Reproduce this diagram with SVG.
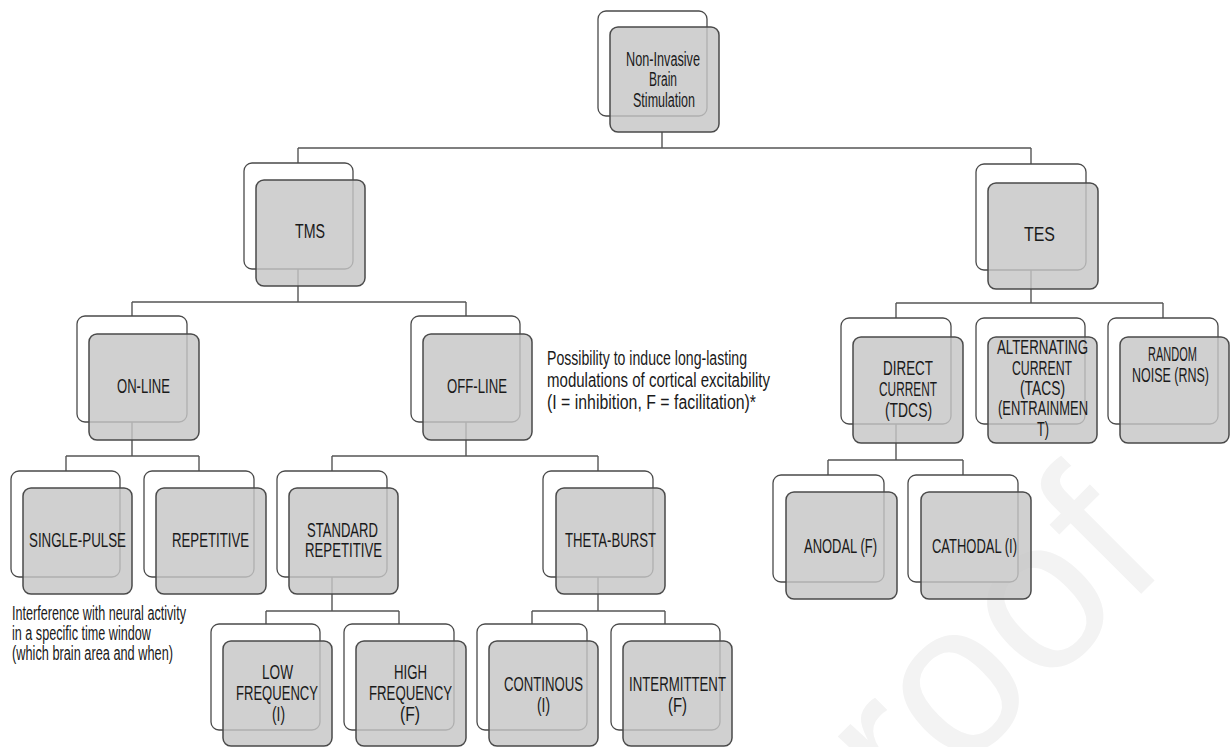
<svg xmlns="http://www.w3.org/2000/svg" width="1231" height="747" viewBox="0 0 1231 747">
<style>
.back{fill:#ffffff;stroke:#4a4a4a;stroke-width:1.3}
.front{fill:#c6c6c6;fill-opacity:0.82;stroke:#4a4a4a;stroke-width:1.5}
.t{font-family:"Liberation Sans",Arial,sans-serif;font-size:20px;fill:#1a1a1a}
.a{font-family:"Liberation Sans",Arial,sans-serif;font-size:20px;fill:#1a1a1a}
.c line{stroke:#555555;stroke-width:1.4}
.wm{font-family:"Liberation Sans",Arial,sans-serif;font-size:215px;fill:#f3f3f3}
</style>
<rect width="1231" height="747" fill="#ffffff"/>
<text class="wm" x="1170" y="565" text-anchor="end" transform="rotate(-45 1170 565)">Journal Pre-proof</text>
<g id="connectors" class="c">
<line x1="662" y1="132" x2="662" y2="148"/>
<line x1="298" y1="148" x2="1031" y2="148"/>
<line x1="298" y1="148" x2="298" y2="163"/>
<line x1="1031" y1="148" x2="1031" y2="164"/>
<line x1="298" y1="269" x2="298" y2="302"/>
<line x1="132" y1="302" x2="466" y2="302"/>
<line x1="132" y1="302" x2="132" y2="316"/>
<line x1="466" y1="302" x2="466" y2="316"/>
<line x1="1031" y1="270" x2="1031" y2="303"/>
<line x1="896" y1="303" x2="1163" y2="303"/>
<line x1="896" y1="303" x2="896" y2="318"/>
<line x1="1163" y1="303" x2="1163" y2="318"/>
<line x1="132" y1="422" x2="132" y2="456"/>
<line x1="66" y1="456" x2="199" y2="456"/>
<line x1="66" y1="456" x2="66" y2="471"/>
<line x1="199" y1="456" x2="199" y2="471"/>
<line x1="466" y1="422" x2="466" y2="456"/>
<line x1="332" y1="456" x2="598" y2="456"/>
<line x1="332" y1="456" x2="332" y2="471"/>
<line x1="598" y1="456" x2="598" y2="471"/>
<line x1="896" y1="424" x2="896" y2="460"/>
<line x1="828" y1="460" x2="963" y2="460"/>
<line x1="828" y1="460" x2="828" y2="475"/>
<line x1="963" y1="460" x2="963" y2="475"/>
<line x1="332" y1="577" x2="332" y2="611"/>
<line x1="266" y1="611" x2="399" y2="611"/>
<line x1="266" y1="611" x2="266" y2="624"/>
<line x1="399" y1="611" x2="399" y2="624"/>
<line x1="598" y1="577" x2="598" y2="611"/>
<line x1="532" y1="611" x2="665" y2="611"/>
<line x1="532" y1="611" x2="532" y2="624"/>
<line x1="665" y1="611" x2="665" y2="624"/>
</g>
<g id="n-root"><rect class="back" x="598" y="11" width="109" height="105" rx="8"/><rect class="front" x="610" y="27" width="109" height="105" rx="8"/>
<text class="t" x="626" y="66" textLength="74" lengthAdjust="spacingAndGlyphs">Non-Invasive</text>
<text class="t" x="649" y="86" textLength="28" lengthAdjust="spacingAndGlyphs">Brain</text>
<text class="t" x="633" y="107" textLength="62" lengthAdjust="spacingAndGlyphs">Stimulation</text></g>
<g id="n-tms"><rect class="back" x="244" y="163" width="109" height="106" rx="8"/><rect class="front" x="256" y="180" width="109" height="106" rx="8"/>
<text class="t" x="295" y="238" textLength="30" lengthAdjust="spacingAndGlyphs">TMS</text></g>
<g id="n-tes"><rect class="back" x="976" y="164" width="110" height="106" rx="8"/><rect class="front" x="988" y="183" width="110" height="106" rx="8"/>
<text class="t" x="1024" y="241" textLength="31" lengthAdjust="spacingAndGlyphs">TES</text></g>
<g id="n-online"><rect class="back" x="77" y="316" width="110" height="106" rx="8"/><rect class="front" x="89" y="334" width="110" height="106" rx="8"/>
<text class="t" x="117" y="393" textLength="53" lengthAdjust="spacingAndGlyphs">ON-LINE</text></g>
<g id="n-offline"><rect class="back" x="411" y="316" width="109" height="106" rx="8"/><rect class="front" x="423" y="334" width="109" height="106" rx="8"/>
<text class="t" x="447" y="393" textLength="60" lengthAdjust="spacingAndGlyphs">OFF-LINE</text></g>
<g id="n-direct"><rect class="back" x="841" y="318" width="110" height="106" rx="8"/><rect class="front" x="853" y="337" width="110" height="106" rx="8"/>
<text class="t" x="883" y="375" textLength="50" lengthAdjust="spacingAndGlyphs">DIRECT</text>
<text class="t" x="879" y="396" textLength="58" lengthAdjust="spacingAndGlyphs">CURRENT</text>
<text class="t" x="885" y="417" textLength="47" lengthAdjust="spacingAndGlyphs">(TDCS)</text></g>
<g id="n-alternating"><rect class="back" x="976" y="318" width="109" height="106" rx="8"/><rect class="front" x="988" y="337" width="109" height="106" rx="8"/>
<text class="t" x="997" y="354" textLength="91" lengthAdjust="spacingAndGlyphs">ALTERNATING</text>
<text class="t" x="1012" y="375" textLength="60" lengthAdjust="spacingAndGlyphs">CURRENT</text>
<text class="t" x="1020" y="395" textLength="45" lengthAdjust="spacingAndGlyphs">(TACS)</text>
<text class="t" x="998" y="415" textLength="90" lengthAdjust="spacingAndGlyphs">(ENTRAINMEN</text>
<text class="t" x="1037" y="436" textLength="12" lengthAdjust="spacingAndGlyphs">T)</text></g>
<g id="n-random"><rect class="back" x="1108" y="318" width="110" height="106" rx="8"/><rect class="front" x="1120" y="337" width="109" height="106" rx="8"/>
<text class="t" x="1197" y="361" text-anchor="end" textLength="49" lengthAdjust="spacingAndGlyphs">RANDOM</text>
<text class="t" x="1209" y="382" text-anchor="end" textLength="77" lengthAdjust="spacingAndGlyphs">NOISE (RNS)</text></g>
<g id="n-single"><rect class="back" x="11" y="471" width="109" height="106" rx="8"/><rect class="front" x="23" y="488" width="109" height="106" rx="8"/>
<text class="t" x="29" y="547" textLength="97" lengthAdjust="spacingAndGlyphs">SINGLE-PULSE</text></g>
<g id="n-repetitive"><rect class="back" x="144" y="471" width="110" height="106" rx="8"/><rect class="front" x="156" y="488" width="110" height="106" rx="8"/>
<text class="t" x="172" y="547" textLength="77" lengthAdjust="spacingAndGlyphs">REPETITIVE</text></g>
<g id="n-standard"><rect class="back" x="277" y="471" width="110" height="106" rx="8"/><rect class="front" x="289" y="488" width="109" height="106" rx="8"/>
<text class="t" x="307" y="537" textLength="71" lengthAdjust="spacingAndGlyphs">STANDARD</text>
<text class="t" x="305" y="557" textLength="77" lengthAdjust="spacingAndGlyphs">REPETITIVE</text></g>
<g id="n-theta"><rect class="back" x="543" y="471" width="110" height="106" rx="8"/><rect class="front" x="556" y="488" width="109" height="106" rx="8"/>
<text class="t" x="565" y="547" textLength="91" lengthAdjust="spacingAndGlyphs">THETA-BURST</text></g>
<g id="n-anodal"><rect class="back" x="773" y="475" width="111" height="107" rx="8"/><rect class="front" x="786" y="492" width="111" height="107" rx="8"/>
<text class="t" x="804" y="553" textLength="73" lengthAdjust="spacingAndGlyphs">ANODAL (F)</text></g>
<g id="n-cathodal"><rect class="back" x="908" y="475" width="110" height="107" rx="8"/><rect class="front" x="921" y="492" width="110" height="107" rx="8"/>
<text class="t" x="932" y="553" textLength="85" lengthAdjust="spacingAndGlyphs">CATHODAL (I)</text></g>
<g id="n-low"><rect class="back" x="211" y="624" width="109" height="106" rx="8"/><rect class="front" x="223" y="641" width="109" height="105" rx="8"/>
<text class="t" x="262" y="679" textLength="31" lengthAdjust="spacingAndGlyphs">LOW</text>
<text class="t" x="236" y="700" textLength="82" lengthAdjust="spacingAndGlyphs">FREQUENCY</text>
<text class="t" x="272" y="721" textLength="13" lengthAdjust="spacingAndGlyphs">(I)</text></g>
<g id="n-high"><rect class="back" x="344" y="624" width="110" height="106" rx="8"/><rect class="front" x="356" y="641" width="110" height="105" rx="8"/>
<text class="t" x="394" y="679" textLength="33" lengthAdjust="spacingAndGlyphs">HIGH</text>
<text class="t" x="369" y="700" textLength="83" lengthAdjust="spacingAndGlyphs">FREQUENCY</text>
<text class="t" x="400" y="721" textLength="20" lengthAdjust="spacingAndGlyphs">(F)</text></g>
<g id="n-continous"><rect class="back" x="477" y="624" width="110" height="106" rx="8"/><rect class="front" x="489" y="641" width="109" height="105" rx="8"/>
<text class="t" x="504" y="691" textLength="79" lengthAdjust="spacingAndGlyphs">CONTINOUS</text>
<text class="t" x="537" y="712" textLength="13" lengthAdjust="spacingAndGlyphs">(I)</text></g>
<g id="n-intermittent"><rect class="back" x="611" y="624" width="109" height="106" rx="8"/><rect class="front" x="623" y="641" width="109" height="105" rx="8"/>
<text class="t" x="629" y="691" textLength="97" lengthAdjust="spacingAndGlyphs">INTERMITTENT</text>
<text class="t" x="668" y="712" textLength="19" lengthAdjust="spacingAndGlyphs">(F)</text></g>
<g id="note-offline">
<text class="a" x="547" y="365" textLength="200" lengthAdjust="spacingAndGlyphs">Possibility to induce long-lasting</text>
<text class="a" x="547" y="387" textLength="223" lengthAdjust="spacingAndGlyphs">modulations of cortical excitability</text>
<text class="a" x="547" y="409" textLength="209" lengthAdjust="spacingAndGlyphs">(I = inhibition, F = facilitation)*</text></g>
<g id="note-online">
<text class="a" x="12" y="620" textLength="174" lengthAdjust="spacingAndGlyphs">Interference with neural activity</text>
<text class="a" x="12" y="640" textLength="139" lengthAdjust="spacingAndGlyphs">in a specific time window</text>
<text class="a" x="12" y="660" textLength="161" lengthAdjust="spacingAndGlyphs">(which brain area and when)</text></g>
</svg>
